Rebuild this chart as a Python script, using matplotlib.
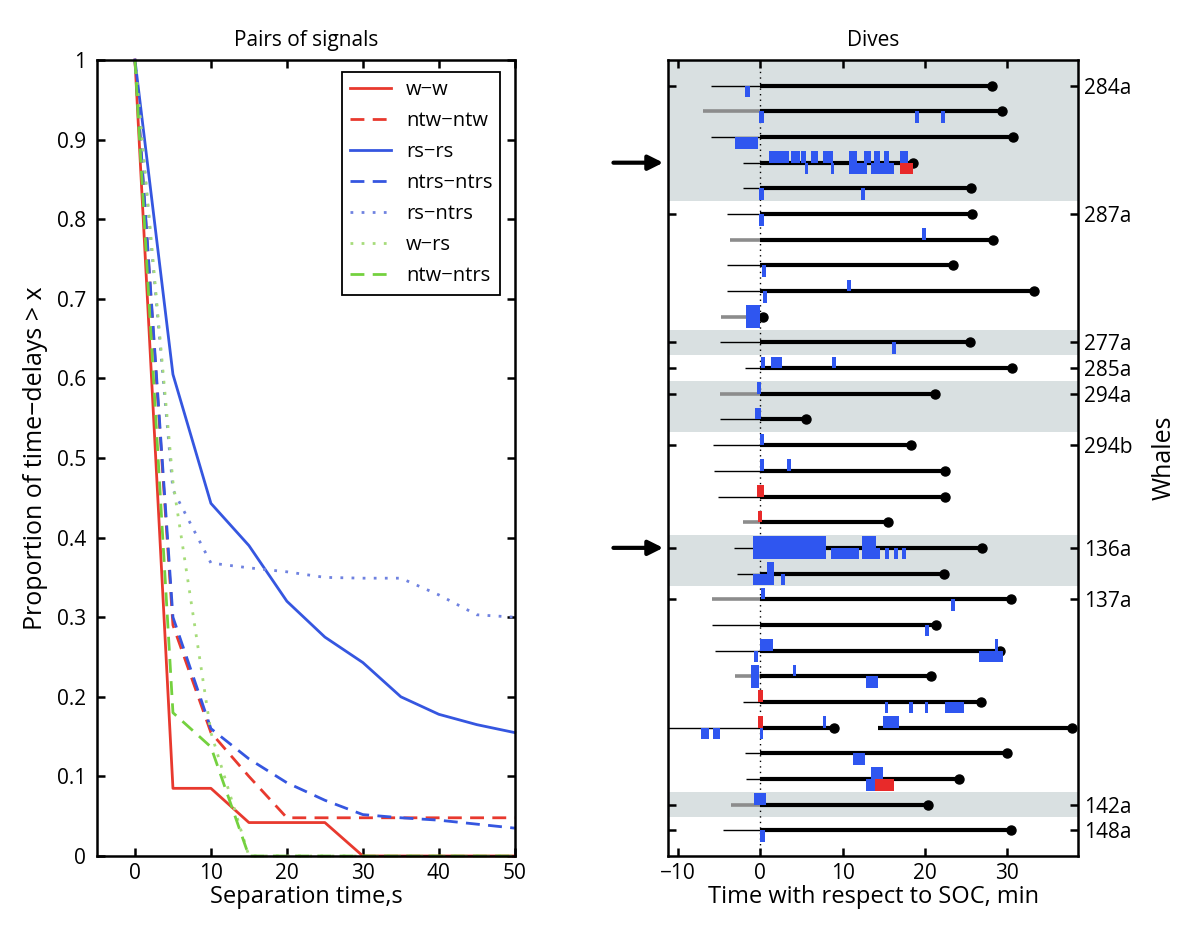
import matplotlib
matplotlib.use('Agg')
import matplotlib.pyplot as plt

plt.rcParams['font.family'] = ['Open Sans', 'DejaVu Sans']

# ---------------- Left panel data ----------------
sep_time = [0, 5, 10, 15, 20, 25, 30, 35, 40, 45, 50]
w_w = [1, 0.085, 0.085, 0.042, 0.042, 0.042, 0, 0, 0, 0, 0]
ntw_ntw = [1, 0.29, 0.155, 0.10, 0.048, 0.048, 0.048, 0.048, 0.048, 0.048, 0.048]
rs_rs = [1, 0.605, 0.443, 0.39, 0.32, 0.275, 0.243, 0.20, 0.178, 0.165, 0.155]
ntrs_ntrs = [1, 0.30, 0.16, 0.122, 0.092, 0.07, 0.052, 0.048, 0.045, 0.04, 0.035]
rs_ntrs = [1, 0.46, 0.368, 0.362, 0.357, 0.35, 0.349, 0.349, 0.328, 0.303, 0.30]
w_rs = [1, 0.47, 0.155, 0, 0, 0, 0, 0, 0, 0, 0]
ntw_ntrs = [1, 0.18, 0.137, 0, 0, 0, 0, 0, 0, 0, 0]
pair_labels = ['w\u2212w', 'ntw\u2212ntw', 'rs\u2212rs', 'ntrs\u2212ntrs',
               'rs\u2212ntrs', 'w\u2212rs', 'ntw\u2212ntrs']
left_yticks = [0, 0.1, 0.2, 0.3, 0.4, 0.5, 0.6, 0.7, 0.8, 0.9, 1]
left_yticklabels = ['0', '0.1', '0.2', '0.3', '0.4', '0.5', '0.6', '0.7', '0.8', '0.9', '1']
left_xticks = [0, 10, 20, 30, 40, 50]

# ---------------- Right panel data ----------------
dive_rows = list(range(1, 31))
pre_start = [-6.0, -6.9, -6.0, -2.1, -2.1, -4.0, -3.7, -4.0, -4.0, -4.8,
             -4.9, -1.9, -4.9, -4.9, -5.7, -5.6, -5.1, -2.1, -3.2, -2.8,
             -5.9, -5.9, -5.5, -3.1, -2.1, -11.2, -1.8, -1.7, -3.5, -4.5]
dive_end = [28.1, 29.4, 30.7, 18.6, 25.6, 25.7, 28.3, 23.4, 33.2, 0.3,
            25.5, 30.6, 21.2, 5.5, 18.3, 22.5, 22.5, 15.5, 26.9, 22.3,
            30.4, 21.3, 29.1, 20.8, 26.8, 37.9, 30.0, 24.2, 20.4, 30.5]
gray_pre_rows = [2, 7, 10, 13, 18, 21, 24, 29]
dive_gaps = {26: (9.0, 14.3)}

blue_above = {
    4: [(1.1, 3.5), (3.7, 4.8), (5.0, 5.6), (6.2, 7.0), (7.6, 8.8), (10.8, 11.8),
        (12.6, 13.4), (13.8, 14.6), (15.0, 15.6), (17.0, 17.9)],
    7: [(19.6, 20.1)],
    9: [(10.5, 11.0)],
    10: [(-1.7, 0.0)],
    12: [(0.1, 0.6), (1.3, 2.6), (8.7, 9.2)],
    13: [(-0.4, 0.1)],
    14: [(-0.6, 0.1)],
    15: [(0.0, 0.5)],
    16: [(0.0, 0.5), (3.2, 3.7)],
    17: [(-0.1, 0.5)],
    19: [(-0.85, 8.0), (12.4, 14.1)],
    20: [(0.8, 1.7)],
    21: [(0.1, 0.6)],
    23: [(0.0, 1.5), (28.5, 28.9)],
    24: [(-1.1, -0.1), (4.0, 4.4)],
    26: [(7.6, 8.0), (14.9, 16.9)],
    28: [(13.5, 14.9)],
    29: [(-0.7, 0.7)],
}
blue_below = {
    1: [(-1.8, -1.3)],
    2: [(-0.1, 0.4), (18.8, 19.3), (21.9, 22.4)],
    3: [(-3.1, -0.3)],
    4: [(5.4, 5.8), (8.6, 9.0), (10.8, 13.0), (13.4, 16.2)],
    5: [(-0.1, 0.4), (12.2, 12.7)],
    6: [(-0.1, 0.4)],
    8: [(0.2, 0.7)],
    9: [(0.3, 0.8)],
    10: [(-1.7, 0.0)],
    11: [(16.0, 16.5)],
    19: [(-0.85, 8.0), (8.6, 12.0), (12.4, 14.6), (15.2, 15.6), (16.2, 16.7), (17.2, 17.7)],
    20: [(-0.85, 1.7), (2.5, 3.0)],
    21: [(23.2, 23.7)],
    22: [(20.0, 20.5)],
    23: [(-0.7, -0.3), (26.6, 29.5)],
    24: [(-1.1, -0.1), (12.9, 14.3)],
    25: [(15.1, 15.5), (18.1, 18.5), (20.0, 20.4), (22.4, 24.8)],
    26: [(-7.2, -6.2), (-5.8, -4.9), (0.0, 0.3)],
    27: [(11.3, 12.7)],
    28: [(12.9, 16.0)],
    30: [(0.0, 0.6)],
}
red_above = {
    17: [(-0.4, 0.5)],
    18: [(-0.3, 0.2)],
    25: [(-0.3, 0.3)],
    26: [(-0.3, 0.3)],
}
red_below = {
    4: [(17.0, 18.5)],
    28: [(13.9, 16.3)],
}
whale_labels = ['284a', '287a', '277a', '285a', '294a', '294b', '136a', '137a', '142a', '148a']
whale_first_row = [1, 6, 11, 12, 13, 15, 19, 21, 29, 30]
whale_last_row = [5, 10, 11, 12, 14, 18, 20, 28, 29, 30]
whale_shaded = [True, False, True, False, True, False, True, False, True, False]
arrow_rows = [4, 19]
right_xticks = [-10, 0, 10, 20, 30]

# ---------------- Styling ----------------
RED = '#e8392e'
BLUE = '#3556e0'
BLUE_LIGHT = '#6f82e0'
GREEN = '#74d13f'
GREEN_LIGHT = '#a6dc7a'
BAND = '#d9e0e1'
EV_BLUE = '#2f56f0'
EV_RED = '#e82a2a'
TICK_FS = 15

fig = plt.figure(figsize=(11.87, 9.27), dpi=100)
ax1 = fig.add_axes([0.0817, 0.0766, 0.352, 0.8587])
ax2 = fig.add_axes([0.5628, 0.0766, 0.3454, 0.8587])

series = [
    (w_w, RED, '-'),
    (ntw_ntw, RED, (0, (5, 3))),
    (rs_rs, BLUE, '-'),
    (ntrs_ntrs, BLUE, (0, (5, 3))),
    (rs_ntrs, BLUE_LIGHT, (0, (1, 3))),
    (w_rs, GREEN_LIGHT, (0, (1, 3))),
    (ntw_ntrs, GREEN, (0, (5, 3))),
]
for (vals, col, ls), lab in zip(series, pair_labels):
    ax1.plot(sep_time, vals, color=col, linestyle=ls, lw=2.0, label=lab, clip_on=False)

ax1.set_xlim(-5, 50)
ax1.set_ylim(0, 1)
ax1.set_xticks(left_xticks)
ax1.set_yticks(left_yticks)
ax1.set_yticklabels(left_yticklabels)
ax1.tick_params(direction='in', top=True, right=True, length=6, width=1.8,
                labelsize=TICK_FS, pad=5)
ax1.tick_params(axis='y', pad=8)
for s in ax1.spines.values():
    s.set_linewidth(1.8)
ax1.set_title('Pairs of signals', fontsize=15, pad=10)
ax1.set_xlabel('Separation time,s', fontsize=17, labelpad=1)
ax1.set_ylabel('Proportion of time\u2212delays > x', fontsize=18, labelpad=6)
leg = ax1.legend(loc='upper right', bbox_to_anchor=(0.975, 0.99), fancybox=False,
                 edgecolor='black', framealpha=1, fontsize=14.5, handlelength=2.0,
                 borderpad=0.4, labelspacing=0.55, handletextpad=0.75,
                 borderaxespad=0.2)
leg.get_frame().set_linewidth(1.3)

# Right panel
for lab, r0, r1, sh in zip(whale_labels, whale_first_row, whale_last_row, whale_shaded):
    if sh:
        lo = 0 if r0 == 1 else r0 - 0.5
        ax2.axhspan(lo, r1 + 0.5, color=BAND, lw=0, zorder=0)

ax2.axvline(0, color='black', lw=1.0, linestyle=(0, (1, 3)), zorder=1)

for r, s, e in zip(dive_rows, pre_start, dive_end):
    if r in gray_pre_rows:
        ax2.plot([s, 0], [r, r], color='#8c8c8c', lw=2.6, solid_capstyle='butt', zorder=2)
    else:
        ax2.plot([s, 0], [r, r], color='black', lw=1.0, solid_capstyle='butt', zorder=2)
    if r in dive_gaps:
        g0, g1 = dive_gaps[r]
        segs = [(0, g0), (g1, e)]
    else:
        segs = [(0, e)]
    for a, b in segs:
        ax2.plot([a, b], [r, r], color='black', lw=3.0, solid_capstyle='butt', zorder=2)
        ax2.plot([b], [r], 'o', color='black', ms=6.5, zorder=2)

H = 0.45
for r, evs in blue_above.items():
    ax2.broken_barh([(a, b - a) for a, b in evs], (r - H, H), facecolors=EV_BLUE, zorder=3)
for r, evs in blue_below.items():
    ax2.broken_barh([(a, b - a) for a, b in evs], (r, H), facecolors=EV_BLUE, zorder=3)
for r, evs in red_above.items():
    ax2.broken_barh([(a, b - a) for a, b in evs], (r - H, H), facecolors=EV_RED, zorder=4)
for r, evs in red_below.items():
    ax2.broken_barh([(a, b - a) for a, b in evs], (r, H), facecolors=EV_RED, zorder=4)

ax2.set_xlim(-11.2, 38.6)
ax2.set_ylim(31, 0)
ax2.set_xticks(right_xticks)
ax2.set_yticks(whale_first_row)
ax2.set_yticklabels(whale_labels)
ax2.tick_params(axis='x', direction='in', top=True, length=6, width=1.8,
                labelsize=TICK_FS, pad=5)
ax2.tick_params(axis='y', direction='in', left=True, right=True, labelleft=False,
                labelright=True, length=6, width=1.8, labelsize=TICK_FS, pad=4)
for s in ax2.spines.values():
    s.set_linewidth(1.8)
ax2.set_title('Dives', fontsize=15, pad=10)
ax2.set_xlabel('Time with respect to SOC, min', fontsize=17, labelpad=1)
ax2.yaxis.set_label_position('right')
ax2.set_ylabel('Whales', fontsize=18, labelpad=14)

for r in arrow_rows:
    ax2.annotate('', xy=(-0.005, r), xycoords=('axes fraction', 'data'),
                 xytext=(-0.14, r), textcoords=('axes fraction', 'data'),
                 arrowprops=dict(arrowstyle='-|>', lw=3, color='black', mutation_scale=22),
                 annotation_clip=False)

fig.savefig('out.png', dpi=100)
